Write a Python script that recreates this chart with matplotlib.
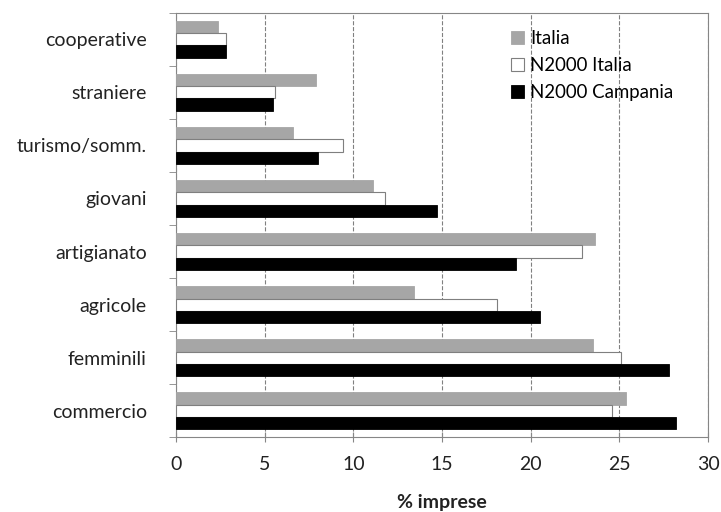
import numpy as np
import matplotlib.pyplot as plt

plt.rcParams['font.family'] = ['Lato', 'DejaVu Sans']

categorie = ['commercio', 'femminili', 'agricole', 'artigianato',
             'giovani', 'turismo/somm.', 'straniere', 'cooperative']
italia = [25.4, 23.5, 13.4, 23.6, 11.1, 6.6, 7.9, 2.4]
n2000_italia = [24.6, 25.1, 18.1, 22.9, 11.8, 9.4, 5.6, 2.8]
n2000_campania = [28.2, 27.8, 20.5, 19.2, 14.7, 8.0, 5.5, 2.8]

fig = plt.figure(figsize=(7.21, 5.12), dpi=100)
ax = fig.add_axes([0.244, 0.146, 0.738, 0.829])

y = np.arange(len(categorie))
h = 0.23
ax.barh(y + h, italia, h, color='#a6a6a6', edgecolor='#a6a6a6', lw=0.6, label='Italia', zorder=3)
ax.barh(y, n2000_italia, h, color='white', edgecolor='#7f7f7f', lw=0.8, label='N2000 Italia', zorder=3)
ax.barh(y - h, n2000_campania, h, color='black', edgecolor='black', lw=0.6, label='N2000 Campania', zorder=3)

ax.set_xlim(0, 30)
ax.set_ylim(-0.5, len(categorie) - 0.5)
ax.set_xticks(np.arange(0, 31, 5))
ax.set_yticks(y)
ax.set_yticklabels(categorie, fontsize=14, color='#222222')
ax.set_yticks(np.arange(-0.5, len(categorie), 1), minor=True)
ax.tick_params(axis='y', which='major', length=0, pad=21)
ax.tick_params(axis='y', which='minor', length=5, color='#868686', direction='out')
ax.tick_params(axis='x', labelsize=14, labelcolor='#222222', length=7, color='#868686',
               direction='inout', pad=10)
ax.grid(axis='x', linestyle='--', color='#808080', lw=0.8, zorder=0)
for s in ax.spines.values():
    s.set_color('#868686')
ax.set_xlabel('% imprese', fontsize=14, fontweight='bold', labelpad=15, color='#222222')

ax.legend(loc='upper right', bbox_to_anchor=(0.966, 1.0), frameon=False, fontsize=13.4,
          handlelength=0.7, handleheight=0.7, handletextpad=0.3, labelspacing=0.55)

fig.savefig('out.png', dpi=100)
